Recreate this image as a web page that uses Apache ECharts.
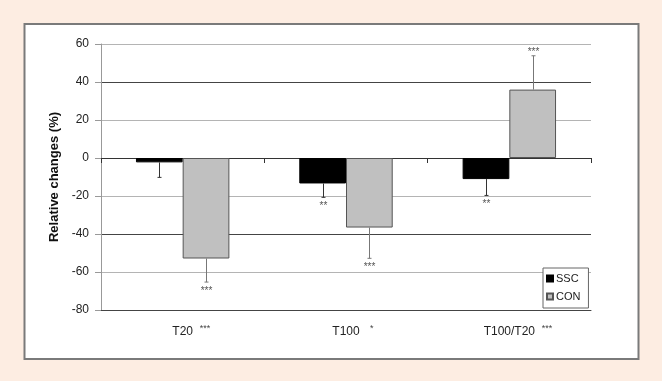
<!DOCTYPE html>
<html>
<head>
<meta charset="utf-8">
<script src="https://cdn.jsdelivr.net/npm/echarts@6/dist/echarts.min.js"></script>
<style>
html,body{margin:0;padding:0;background:#fdede2;}
#c{width:662px;height:381px;}
</style>
</head>
<body>
<div id="c"></div>
<script>
// ---- data ----
const categories = ['T20', 'T100', 'T100/T20'];
const categoryStars = ['***', '*', '***'];
const seriesNames = ['SSC', 'CON'];
const sscValues = [-2.3, -13.4, -11.1];
const sscErrors = [7.9, 7.3, 8.6];
const sscStars = ['', '**', '**'];
const conValues = [-52.9, -36.6, 36.0];
const conErrors = [12.4, 16.2, 17.8];
const conStars = ['***', '***', '***'];
const yTicks = { min: -80, max: 60, interval: 20 };

const BAR_FRAC = 0.286;

function errorSeries(values, errors, stars, side, color) {
  const data = values.map((v, i) => [i, v, errors[i], stars[i]]);
  return {
    type: 'custom',
    xAxisIndex: 0,
    yAxisIndex: 0,
    silent: true,
    z: 5,
    data: data,
    renderItem: function (params, api) {
      const idx = api.value(0);
      const v = api.value(1);
      const e = api.value(2);
      const st = data[params.dataIndex][3];
      const end = v >= 0 ? v + e : v - e;
      const catW = api.size([1, 0])[0];
      const bw = catW * BAR_FRAC;
      const c = api.coord([idx, v]);
      const x = Math.round(c[0] + side * bw / 2) + 0.5;
      const p0 = api.coord([idx, v]);
      const p1 = api.coord([idx, end]);
      const children = [
        { type: 'line', shape: { x1: x, y1: p0[1], x2: x, y2: p1[1] }, style: { stroke: color, lineWidth: 1 } },
        { type: 'line', shape: { x1: x - 2, y1: p1[1], x2: x + 2, y2: p1[1] }, style: { stroke: color, lineWidth: 1 } }
      ];
      if (st) {
        children.push({
          type: 'text',
          style: {
            text: st, x: x, y: v >= 0 ? p1[1] - 4 : p1[1] + 9,
            align: 'center', verticalAlign: 'middle',
            fontSize: 10, fill: '#555', fontFamily: 'Liberation Sans'
          }
        });
      }
      return { type: 'group', children: children };
    }
  };
}

const chart = echarts.init(document.getElementById('c'), null, { renderer: 'canvas' });
chart.setOption({
  backgroundColor: '#fdede2',
  animation: false,
  textStyle: { fontFamily: 'Liberation Sans' },
  graphic: [{
    type: 'rect', z: -10,
    shape: { x: 24.5, y: 24, width: 614, height: 335 },
    style: { fill: '#ffffff', stroke: '#7a7a7a', lineWidth: 2 }
  }],
  grid: { left: 101, right: 71, top: 44, bottom: 71 },
  legend: {
    data: seriesNames,
    orient: 'vertical',
    left: 543, top: 268,
    itemWidth: 6, itemHeight: 6, itemGap: 7,
    padding: [5, 8, 6, 3],
    borderColor: '#666', borderWidth: 1,
    backgroundColor: '#fff',
    icon: 'rect',
    textStyle: { fontSize: 11, color: '#222', padding: [0, 0, 0, -2] }
  },
  xAxis: [{
    type: 'category',
    data: categories,
    position: 'bottom',
    axisLine: { onZero: false, lineStyle: { color: '#444', width: 1 } },
    axisTick: { show: false },
    axisLabel: {
      margin: 14,
      formatter: function (val, i) {
        return '{p|}{a|' + val + '}{s|' + categoryStars[i] + '}';
      },
      rich: {
        p: { width: 20 },
        a: { fontSize: 12, color: '#222' },
        s: { fontSize: 9, color: '#444', width: 16, padding: [0, 0, 6, 4], align: 'left' }
      }
    },
    splitLine: { show: false }
  }, {
    type: 'category',
    data: categories,
    position: 'top',
    axisLine: { onZero: true, lineStyle: { color: '#333', width: 1 } },
    axisTick: { show: true, inside: true, length: 5, interval: 0, lineStyle: { color: '#333' } },
    axisLabel: { show: false },
    splitLine: { show: false }
  }],
  yAxis: {
    type: 'value',
    min: yTicks.min, max: yTicks.max, interval: yTicks.interval,
    name: 'Relative changes (%)',
    nameLocation: 'middle',
    nameGap: 35,
    nameTextStyle: { fontSize: 13, fontWeight: 'bold', color: '#111' },
    axisLine: { show: true, lineStyle: { color: '#999' } },
    axisTick: { show: true, length: 6, lineStyle: { color: '#999' } },
    axisLabel: { fontSize: 12, color: '#222', margin: 12 },
    splitLine: { show: true, lineStyle: { color: ['#444', '#b4b4b4'], width: 1 } }
  },
  series: [{
    name: 'SSC', type: 'bar', data: sscValues,
    barWidth: (BAR_FRAC * 100) + '%', barGap: '0%',
    itemStyle: { color: '#000', borderColor: '#000', borderWidth: 1 },
    z: 3
  }, {
    name: 'CON', type: 'bar', data: conValues,
    barWidth: (BAR_FRAC * 100) + '%', barGap: '0%',
    itemStyle: { color: '#c0c0c0', borderColor: '#555', borderWidth: 1 },
    z: 3
  },
  errorSeries(sscValues, sscErrors, sscStars, -1, '#333'),
  errorSeries(conValues, conErrors, conStars, 1, '#777')
  ]
});
</script>
</body>
</html>
